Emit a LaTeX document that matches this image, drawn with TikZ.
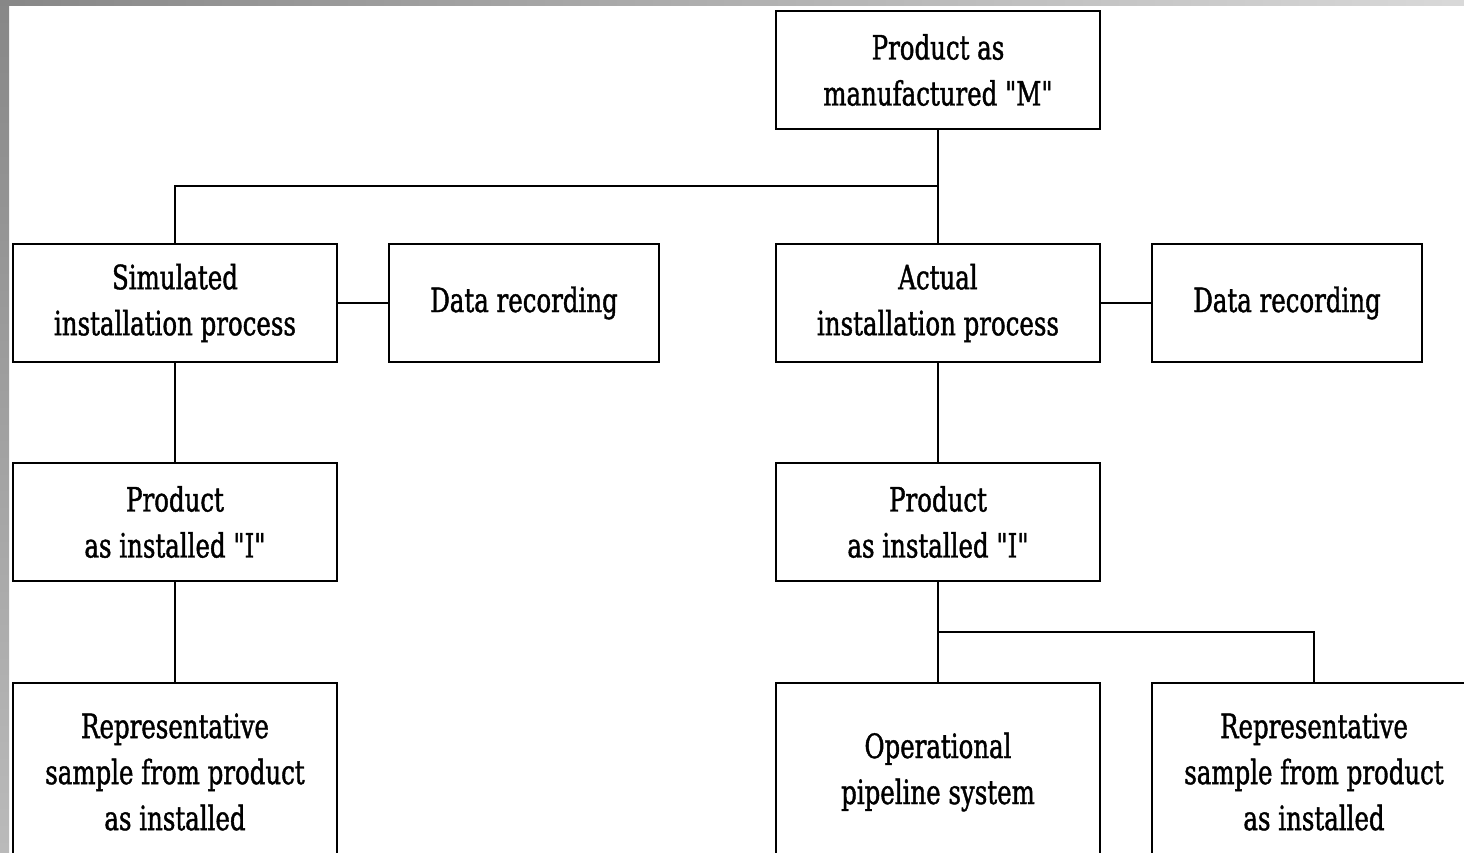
\documentclass[tikz,border=0pt]{standalone}
\usepackage{fontspec}
\setmainfont{DejaVu Serif}[FakeStretch=0.73,FakeBold=1.2,Ligatures=TeXOff]
\begin{document}
\begin{tikzpicture}[x=1pt,y=-1pt,
  box/.style={draw=black,line width=2pt,fill=white,minimum width=324pt,minimum height=118pt,align=center,inner sep=0pt,font=\fontsize{33.5}{46}\selectfont},
  dbox/.style={box,minimum width=270pt},
  tbox/.style={box,minimum height=178pt},
  conn/.style={line width=1.5pt}]
\useasboundingbox (0,0) rectangle (1464,853);
\clip (0,0) rectangle (1464,853);
\fill[white] (0,0) rectangle (1464,853);
\shade[left color=black!47,right color=black!15] (0,0) rectangle (1464,6);
\shade[top color=black!47,bottom color=black!27] (0,0) rectangle (9,853);
\coordinate (j1) at (938,186);
\coordinate (j1l) at (175,186);
\coordinate (j2) at (938,632);
\coordinate (j2r) at (1314,632);
\node[box] (M) at (938,70) {Product as\\manufactured "M"};
\node[box] (S) at (175,303) {Simulated\\installation process};
\node[dbox] (D1) at (524,303) {Data recording};
\node[box] (A) at (938,303) {Actual\\installation process};
\node[dbox] (D2) at (1287,303) {Data recording};
\node[box] (IL) at (175,522) {Product\\as installed "I"};
\node[box] (IR) at (938,522) {Product\\as installed "I"};
\node[tbox] (RL) at (175,772) {Representative\\sample from product\\as installed};
\node[tbox] (OP) at (938,772) {Operational\\pipeline system};
\node[tbox] (RR) at (1314,772) {Representative\\sample from product\\as installed};
\draw[conn] (M.south) -- (A.north);
\draw[conn] (j1) -- (j1l) -- (S.north);
\draw[conn] (S.east) -- (D1.west);
\draw[conn] (A.east) -- (D2.west);
\draw[conn] (S.south) -- (IL.north);
\draw[conn] (IL.south) -- (RL.north);
\draw[conn] (A.south) -- (IR.north);
\draw[conn] (IR.south) -- (OP.north);
\draw[conn] (j2) -- (j2r) -- (RR.north);
\end{tikzpicture}
\end{document}
